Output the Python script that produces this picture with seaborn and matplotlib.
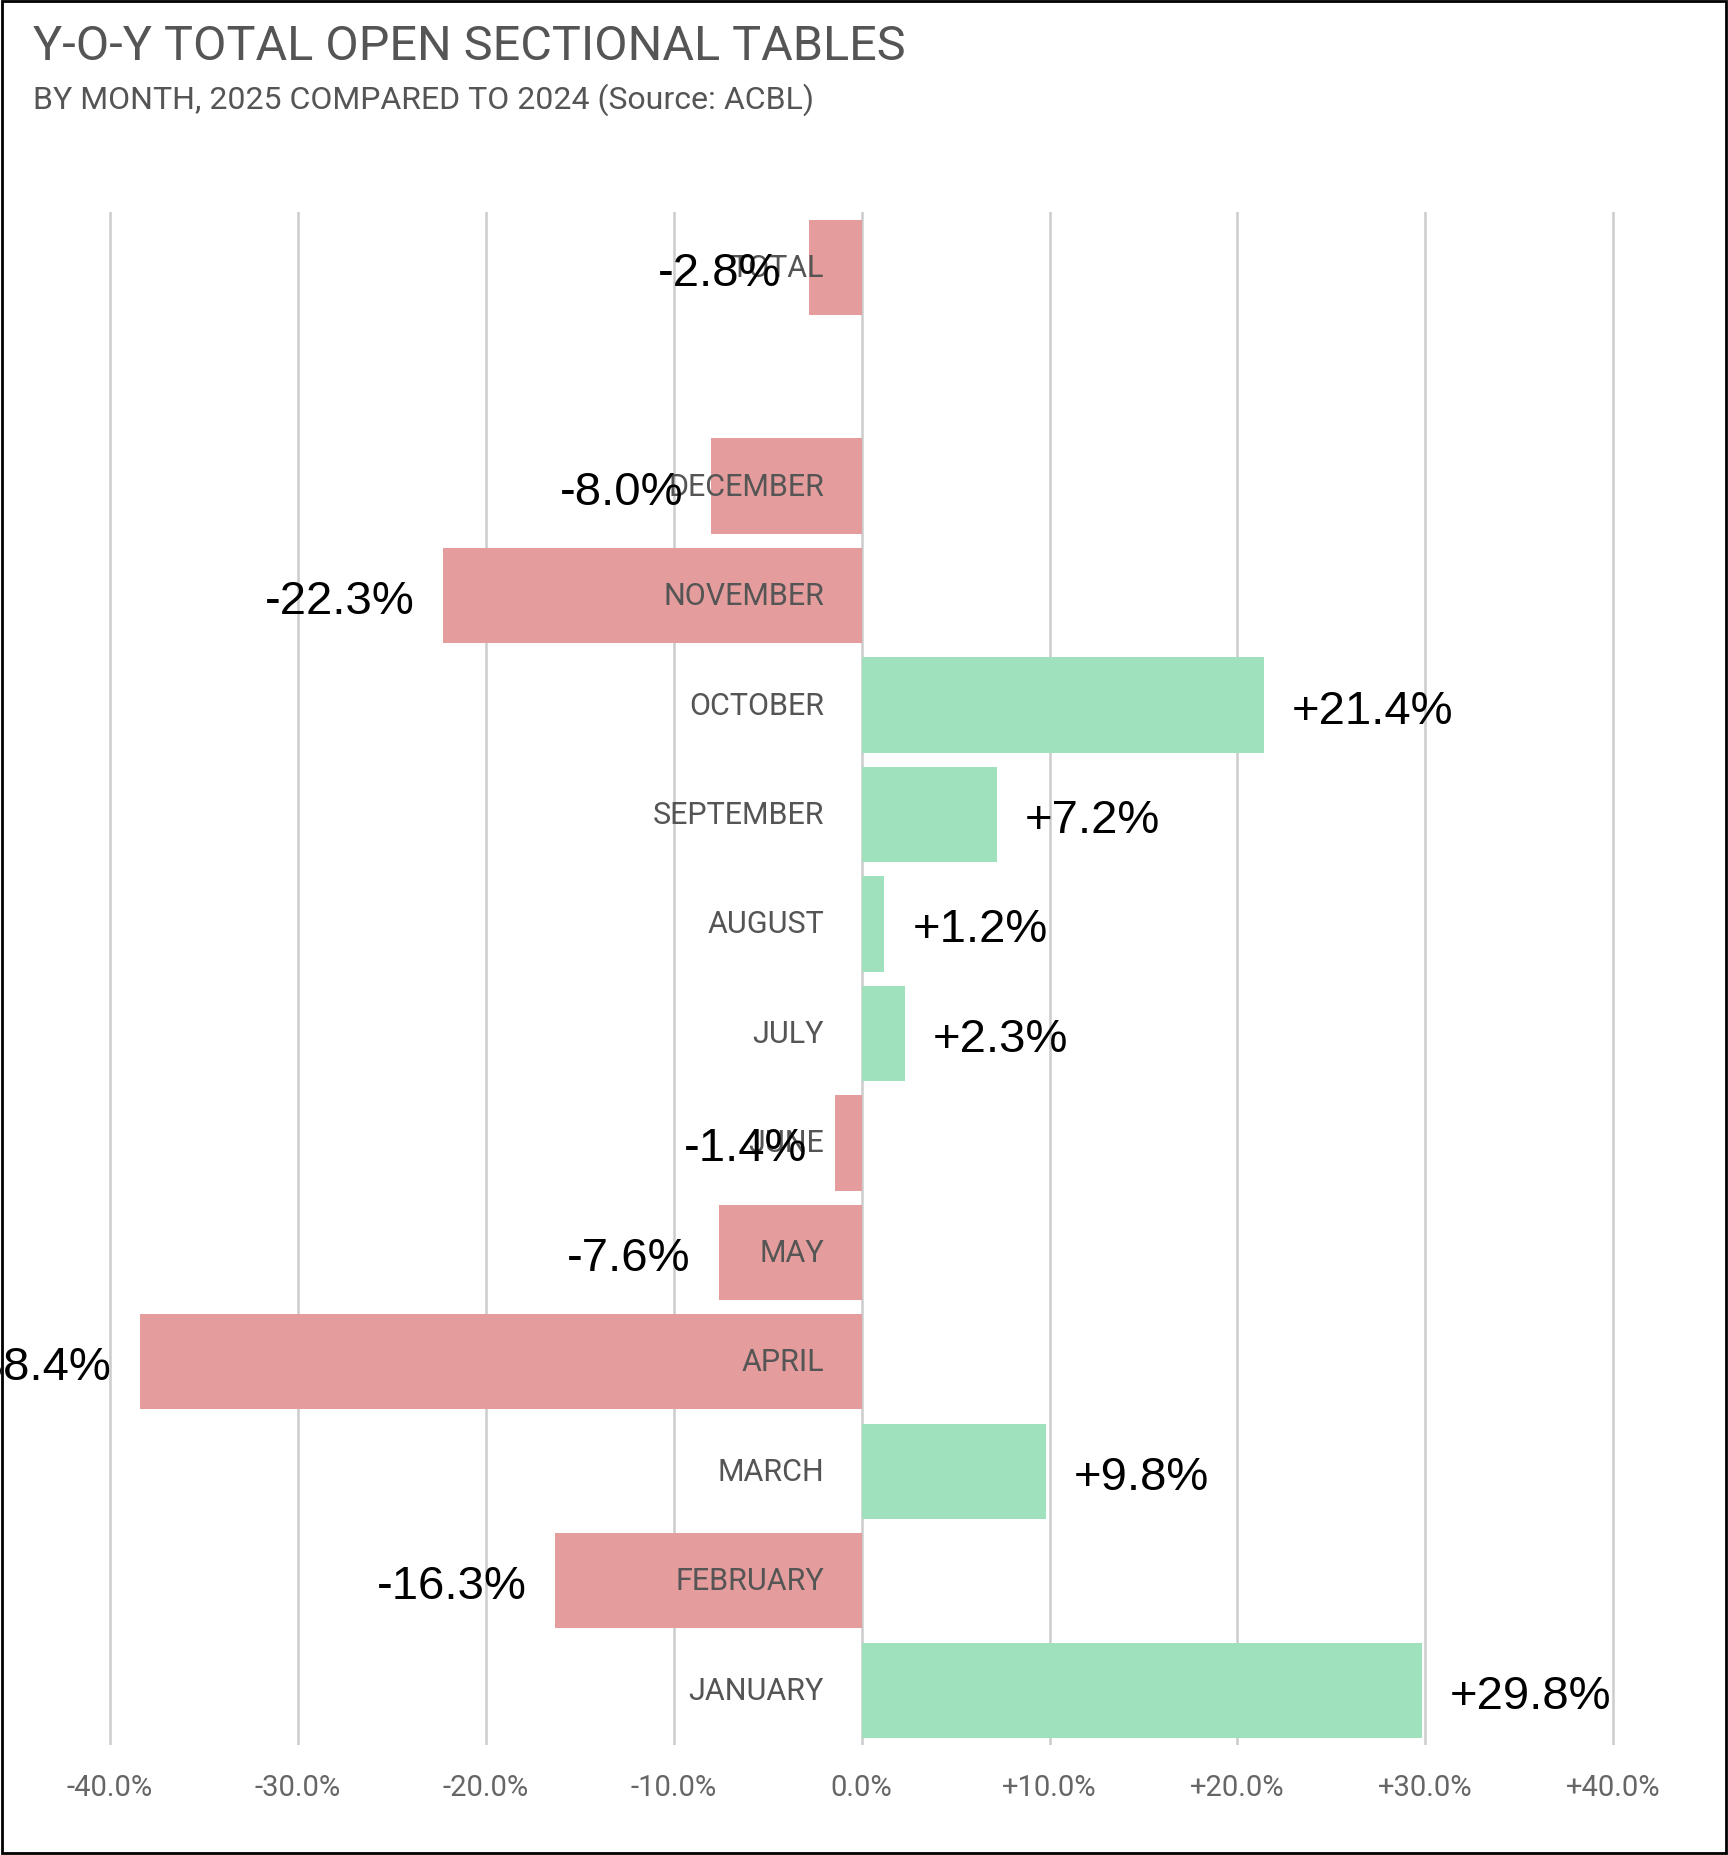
import numpy as np
import pandas as pd
import matplotlib.pyplot as plt
import seaborn as sns

# ── data ─────────────────────────────────────────
categories = ["TOTAL", "", "DECEMBER", "NOVEMBER", "OCTOBER", "SEPTEMBER", "AUGUST",
              "JULY", "JUNE", "MAY", "APRIL", "MARCH", "FEBRUARY", "JANUARY"]
changes = [-2.8, np.nan, -8.0, -22.3, 21.4, 7.2, 1.2, 2.3, -1.4, -7.6, -38.4, 9.8, -16.3, 29.8]
ticks = [-40, -30, -20, -10, 0, 10, 20, 30, 40]

df = pd.DataFrame({"cat": categories, "val": changes})
df["sign"] = np.where(df["val"] >= 0, "pos", "neg")

sns.set_style("white")
plt.rcParams["font.family"] = ["Roboto", "DejaVu Sans"]

fig = plt.figure(figsize=(17.28, 18.56), dpi=100)
ax = fig.add_axes([0.0474, 0.0593, 0.9025, 0.8257])

sns.barplot(data=df, y="cat", x="val", hue="sign", order=categories, orient="h",
            palette={"pos": "#9FE0BD", "neg": "#E59C9C"}, width=0.87, saturation=1,
            legend=False, dodge=False, ax=ax, edgecolor="none")

ax.set_xlim(-41.5, 41.5)
ax.set_ylim(13.5, -0.5)
ax.set_xticks(ticks)
ax.set_xticklabels(["0.0%" if t == 0 else f"{t:+.1f}%" for t in ticks],
                   fontsize=21, color="#666666")
ax.tick_params(axis="x", length=0, pad=20)
ax.set_yticks([])
ax.set_xlabel("")
ax.set_ylabel("")
for t in ticks:
    ax.axvline(t, color="#cccccc", lw=1.8, zorder=0)
for s in ax.spines.values():
    s.set_visible(False)

for i, (c, v) in enumerate(zip(categories, changes)):
    if not c:
        continue
    ax.text(-2.0, i, c, ha="right", va="center", fontsize=22, color="#555555")
    if v >= 0:
        ax.text(v + 1.5, i + 0.05, f"+{v:.1f}%", ha="left", va="center",
                fontsize=34, family="Liberation Sans", color="black")
    else:
        ax.text(v - 1.5, i + 0.05, f"{v:.1f}%", ha="right", va="center",
                fontsize=34, family="Liberation Sans", color="black")

fig.text(0.019, 0.987, "Y-O-Y TOTAL OPEN SECTIONAL TABLES", fontsize=35,
         color="#555555", va="top")
fig.text(0.019, 0.955, "BY MONTH, 2025 COMPARED TO 2024 (Source: ACBL)", fontsize=23,
         color="#555555", va="top")

fig.patches.append(plt.Rectangle((0.001, 0.001), 0.998, 0.998, transform=fig.transFigure,
                                 fill=False, edgecolor="black", lw=2))

fig.savefig("out.png", dpi=100, facecolor="white")
